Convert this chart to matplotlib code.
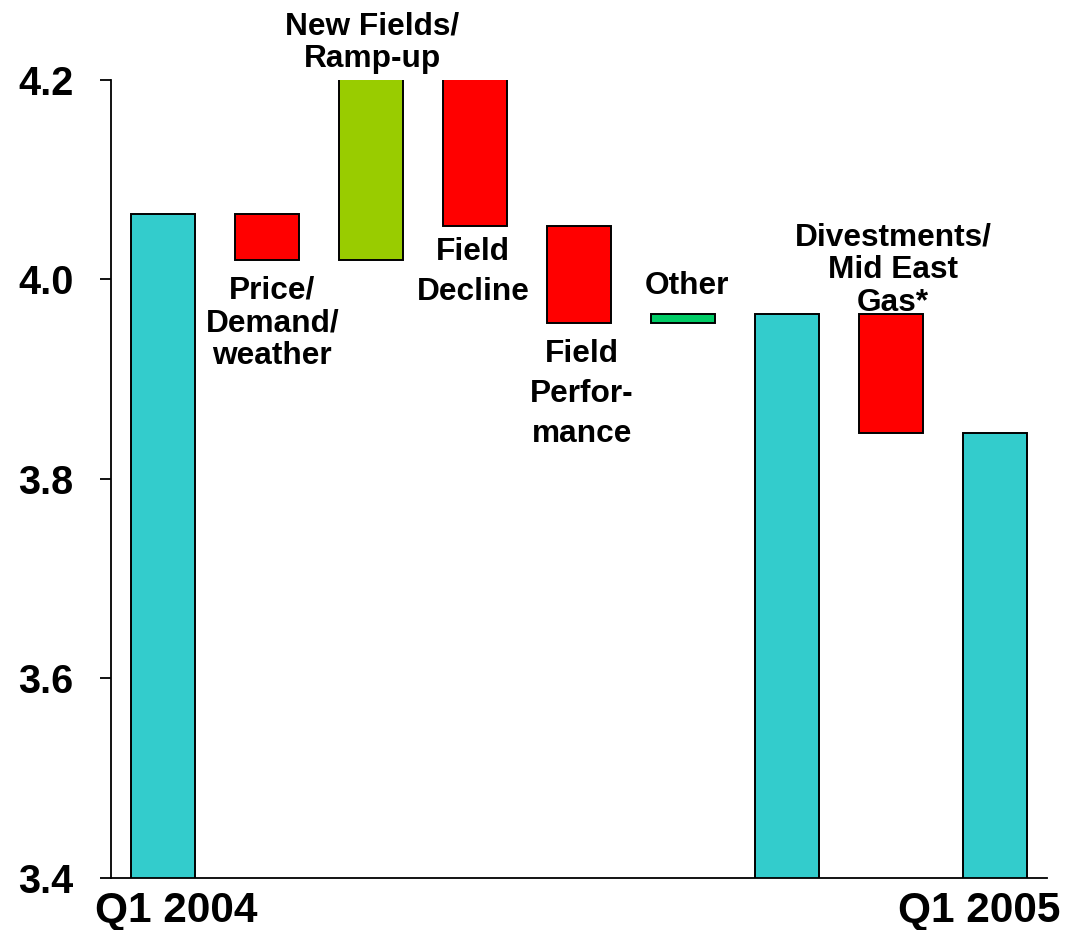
import matplotlib.pyplot as plt
import numpy as np

plt.rcParams['font.family'] = ['Liberation Sans', 'DejaVu Sans']
plt.rcParams['font.weight'] = 'bold'

# waterfall data
start_value = 4.066
step_labels = ['Price/\nDemand/\nweather', 'New Fields/\nRamp-up', 'Field\nDecline',
               'Field\nPerfor-\nmance', 'Other']
step_deltas = [-0.047, 0.183, -0.148, -0.098, 0.009]
subtotal_value = 3.965
last_label = 'Divestments/\nMid East\nGas*'
last_delta = -0.119
end_value = 3.846
x_labels = ['Q1 2004', 'Q1 2005']
y_ticks = [3.4, 3.6, 3.8, 4.0, 4.2]

teal = '#33CCCC'
red = '#FF0000'
olive = '#99CC00'
green = '#00CC66'

fig = plt.figure(figsize=(10.77, 9.30), dpi=100)
ax = fig.add_axes([0.1031, 0.0559, 0.869, 0.8582])

bw = 0.62
edge = dict(edgecolor='black', linewidth=1.4)

# totals
ax.bar(0, start_value, width=bw, color=teal, **edge)
ax.bar(6, subtotal_value, width=bw, color=teal, **edge)
ax.bar(8, end_value, width=bw, color=teal, **edge)

# steps
level = start_value
for i, d in enumerate(step_deltas):
    if i == 4:
        col = green
    elif d > 0:
        col = olive
    else:
        col = red
    ax.bar(i + 1, abs(d), bottom=min(level, level + d), width=bw, color=col, **edge)
    level += d
ax.bar(7, abs(last_delta), bottom=subtotal_value + last_delta, width=bw, color=red, **edge)

# category annotations (x, y top, linespacing)
ann_pos = [(1.05, 4.0035, 1.12), (2.01, 4.269, 1.12), (2.98, 4.0425, 1.42),
           (4.03, 3.9400, 1.42), (5.04, 4.0085, 1.0)]
fs = 22.8
for lab, (tx, ty, ls) in zip(step_labels, ann_pos):
    ax.text(tx, ty, lab, ha='center', va='top', fontsize=fs, fontweight='bold',
            linespacing=ls, multialignment='center')
ax.text(7.02, 4.0575, last_label, ha='center', va='top', fontsize=fs,
        fontweight='bold', linespacing=1.12, multialignment='center')

ax.text(0.125, 3.3555, x_labels[0], ha='center', va='baseline', fontsize=30.5, fontweight='bold')
ax.text(7.85, 3.3555, x_labels[1], ha='center', va='baseline', fontsize=30.5, fontweight='bold')

ax.set_xlim(-0.5, 8.5)
ax.set_ylim(3.4, 4.2)
ax.set_yticks(y_ticks)
ax.set_yticklabels(['%.1f' % v for v in y_ticks], fontsize=28.5, fontweight='bold')
ax.set_xticks([])
ax.tick_params(axis='y', direction='out', length=8, width=1.3, pad=19)

ax.spines['top'].set_visible(False)
ax.spines['right'].set_visible(False)
ax.spines['left'].set_linewidth(1.3)
ax.spines['bottom'].set_linewidth(1.3)

fig.savefig('out.png', dpi=100)
